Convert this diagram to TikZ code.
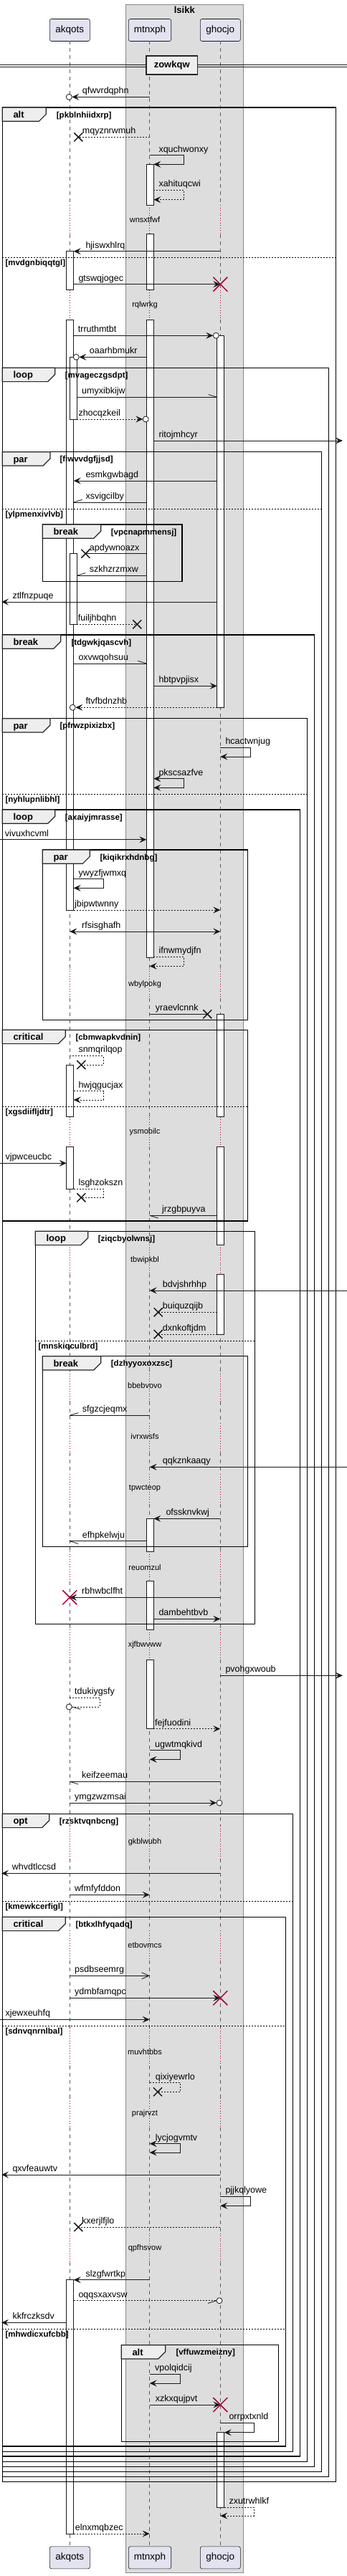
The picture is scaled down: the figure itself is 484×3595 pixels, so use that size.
\documentclass[tikz,border=0pt]{standalone}
\usepackage{fontspec}
\setmainfont{Liberation Sans}
\usetikzlibrary{arrows.meta}

\definecolor{partfill}{HTML}{E2E2F0}
\definecolor{boxfill}{HTML}{DDDDDD}
\definecolor{tabfill}{HTML}{EEEEEE}
\definecolor{delayred}{HTML}{A80036}
\definecolor{ink}{HTML}{181818}
\definecolor{boxline}{HTML}{888888}

\tikzset{
  >={Stealth[length=10pt,width=9pt,inset=4pt]},
  msgline/.style={draw=ink, line width=0.8pt},
  retline/.style={msgline, dash pattern=on 2pt off 2pt},
  openhead/.style={-{Straight Barb[length=10pt,width=9pt]}},
  msglbl/.style={anchor=base west, inner sep=0pt, yshift=4.5pt, font=\fontsize{12.5}{15}\selectfont},
  lifeline/.style={draw=ink!70, line width=0.6pt, dash pattern=on 5pt off 5pt},
  delayline/.style={draw=delayred, line width=0.8pt, dash pattern=on 1pt off 2.5pt},
  delaylbl/.style={inner sep=0pt, font=\fontsize{11}{13}\selectfont},
  actbox/.style={draw=ink, line width=0.8pt, fill=white},
  framebox/.style={draw=black, line width=1.5pt},
  frametab/.style={draw=black!85, line width=1.2pt, fill=tabfill},
  framelbl/.style={anchor=base west, inner sep=0pt, font=\fontsize{13}{15}\selectfont\bfseries},
  guardlbl/.style={anchor=base west, inner sep=0pt, font=\fontsize{11.5}{13}\selectfont\bfseries},
  elseline/.style={draw=black, line width=0.8pt, dash pattern=on 2pt off 2pt},
  partbox/.style={draw=ink, line width=0.6pt, fill=partfill, rounded corners=2.5pt, minimum width=56pt, minimum height=31pt, inner sep=0pt, font=\fontsize{13.5}{16}\selectfont},
  divbox/.style={draw=black!85, line width=1.5pt, fill=tabfill, minimum width=71.3pt, minimum height=26pt, inner sep=0pt, font=\fontsize{13}{15}\selectfont\bfseries},
  lostmark/.style={draw=ink, line width=1.5pt},
  killmark/.style={draw=delayred, line width=1.5pt},
  circmark/.style={draw=ink, line width=0.8pt, fill=white},
}

\newcommand{\msg}[6][]{%
  \coordinate (#6-a) at (#2,#4);
  \coordinate (#6-b) at (#3,#4);
  \draw[msgline,#1] (#6-a) -- (#6-b);
  \node[msglbl] (#6) at (#5,#4) {#6};}
\newcommand{\selfmsg}[8][]{%
  \coordinate (#8-a) at (#2,#4);
  \coordinate (#8-b) at (#6,#5);
  \draw[msgline,#1] (#8-a) -- (#3,#4) -- (#3,#5) -- (#8-b);
  \node[msglbl] (#8) at (#7,#4) {#8};}
\newcommand{\lostx}[2]{\draw[lostmark,shift={(#1,#2)}] (-6,-6) -- (6,6) (-6,6) -- (6,-6);}
\newcommand{\killx}[2]{\draw[killmark,shift={(#1,#2)}] (-10,-10) -- (10,10) (-10,10) -- (10,-10);}
\newcommand{\opencirc}[2]{\draw[circmark] (#1,#2) circle[radius=4];}
\newcommand{\barb}[4]{\draw[msgline] (#1,#2) -- ++(#3,#4);}
\newcommand{\actbar}[3]{\draw[actbox] (#1,#2) rectangle (#1+10,#3);}
\newcommand{\delaytxt}[2]{\node[delaylbl] (#1) at (202,#2) {#1};}
\newcommand{\sqframe}[9]{%
  \draw[framebox] (#2,#3) rectangle (#4,#5);
  \draw[frametab] (#2,#3) -- (#6,#3) -- (#6,#3+9.3) -- (#6-10,#3+19.3) -- (#2,#3+19.3) -- cycle;
  \node[framelbl] (#1) at (#2+15,#3+14.5) {#7};
  \node[guardlbl] (#1-g) at (#9,#3+14) {#8};}
\newcommand{\elsebar}[5]{%
  \draw[elseline] (#2,#4) -- (#3,#4);
  \node[guardlbl] (#1) at (#2+4,#4+11) {#5};}

\begin{document}
\begin{tikzpicture}[x=1pt,y=-1pt]
\useasboundingbox (0,0) rectangle (484,3595);

\draw[draw=boxline, fill=boxfill, line width=1pt] (175.3,6) rectangle (339.3,3590);
\node[inner sep=0pt, font=\fontsize{13}{15}\selectfont\bfseries] (lsikk) at (257.3,14.3) {lsikk};

\node[partbox] (akqots) at (97.3,42) {akqots};
\node[partbox, minimum width=59.4pt] (mtnxph) at (209,42) {mtnxph};
\node[partbox] (ghocjo) at (307.3,42) {ghocjo};
\node[partbox] (akqots-b) at (97.3,3569.3) {akqots};
\node[partbox, minimum width=59.4pt] (mtnxph-b) at (209,3569.3) {mtnxph};
\node[partbox] (ghocjo-b) at (307.3,3569.3) {ghocjo};

\foreach \lx in {97.3,208.7,307.3}{
  \foreach \s/\e in {57.3/286,326.7/404.7,446/1351.7,1392.7/1558.7,1600/1737.3,1778.3/1913,1956/1986,2027/2057,2099/2165.3,2206.7/2274.3,2316/2548,2594/2694,2736/2830,2883/2928,2969/3116.7,3156.7/3553.3}
    \draw[lifeline] (\lx,\s) -- (\lx,\e);
  \foreach \s/\e in {286/326.7,404.7/446,1351.7/1392.7,1558.7/1600,1737.3/1778.3,1913/1956,1986/2027,2057/2099,2165.3/2206.7,2274.3/2316,2548/2594,2694/2736,2830/2883,2928/2969,3116.7/3156.7}
    \draw[delayline] (\lx,\s) -- (\lx,\e);
}

\delaytxt{wnsxtfwf}{306.7}
\delaytxt{rqlwrkg}{426}
\delaytxt{wbylpokg}{1373.3}
\delaytxt{ysmobilc}{1580}
\delaytxt{tbwipkbl}{1759}
\delaytxt{bbebvovo}{1933.3}
\delaytxt{ivrxwsfs}{2005}
\delaytxt{tpwcteop}{2077}
\delaytxt{reuomzul}{2187.3}
\delaytxt{xjfbwvww}{2296}
\delaytxt{gkblwubh}{2571}
\delaytxt{etbovmcs}{2715}
\delaytxt{muvhtbbs}{2864}
\delaytxt{prajrvzt}{2949.3}
\delaytxt{qpfhsvow}{3138}

\actbar{92.7}{350.7}{404.7}
\actbar{92.7}{446}{1270}
\actbar{97.3}{498.3}{585.3}
\actbar{97.3}{772.7}{871.3}
\actbar{92.7}{1486}{1558.7}
\actbar{92.7}{1600}{1659.3}
\actbar{92.7}{3181.7}{3536}
\actbar{204.3}{229.3}{286}
\actbar{204.3}{326.7}{404.7}
\actbar{204.3}{446}{1336}
\actbar{204.3}{2119.3}{2165.3}
\actbar{204.3}{2206.7}{2274.3}
\actbar{204.3}{2316}{2412.7}
\actbar{302.7}{468.3}{987.3}
\actbar{302.7}{1415.3}{1558.7}
\actbar{302.7}{1600}{1737.3}
\actbar{302.7}{1778.3}{1862}
\actbar{302.7}{3394.7}{3499}

\sqframe{fAlt}{3.3}{150}{468.7}{3463.3}{64.3}{alt}{[pkblnhiidxrp]}{78.7}
\elsebar{gAltElse}{3.3}{468.7}{359.3}{[mvdgnbiqqtgl]}
\sqframe{fLoopA}{3.3}{513.3}{458.7}{3456.7}{76.7}{loop}{[mvageczgsdpt]}{90.7}
\sqframe{fParA}{3.3}{630.7}{448.7}{3449.3}{70}{par}{[fiwvvdgfjjsd]}{83.3}
\elsebar{gParAElse}{3.3}{448.7}{710}{[ylpmenxivlvb]}
\sqframe{fBreakA}{59.3}{732}{254}{811.3}{140.7}{break}{[vpcnapmmensj]}{154.7}
\sqframe{fBreakB}{3.3}{886}{438.7}{3442.7}{84.7}{break}{[tdgwkjqascvh]}{99.3}
\sqframe{fParB}{3.3}{1002.7}{428.7}{3435.3}{70}{par}{[pfrwzpixizbx]}{83.3}
\elsebar{gParBElse}{3.3}{428.7}{1108.7}{[nyhlupnlibhl]}
\sqframe{fLoopB}{3.3}{1130}{418.7}{3428}{76.7}{loop}{[axaiyjmrasse]}{90.7}
\sqframe{fParC}{59.3}{1186}{345.3}{1423.3}{125.3}{par}{[kiqikrxhdnbg]}{139.3}
\sqframe{fCritA}{3.3}{1437.3}{345.3}{1704}{91.3}{critical}{[cbmwapkvdnin]}{105.3}
\elsebar{gCritAElse}{3.3}{345.3}{1544}{[xgsdiifljdtr]}
\sqframe{fLoopC}{49.3}{1718.3}{355.3}{2266.7}{122.7}{loop}{[ziqcbyolwnsj]}{136.7}
\elsebar{gLoopCElse}{49.3}{355.3}{1871}{[mnskiqculbrd]}
\sqframe{fBreakC}{59.3}{1892.7}{345.3}{2158.7}{140.7}{break}{[dzhyyoxoxzsc]}{154.7}
\sqframe{fOpt}{3.3}{2531.3}{408.7}{3421.3}{68.7}{opt}{[rzsktvqnbcng]}{82.7}
\elsebar{gOptElse}{3.3}{408.7}{2653.3}{[kmewkcerfigl]}
\sqframe{fCritB}{3.3}{2675.3}{398.7}{3414}{91.3}{critical}{[btkxlhfyqadq]}{105.3}
\elsebar{gCritBElse}{3.3}{398.7}{2827}{[sdnvqnrnlbal]}
\elsebar{gCritBElseB}{3.3}{398.7}{3250}{[mhwdicxufcbb]}
\sqframe{fAltB}{169.3}{3272.7}{388.7}{3407.3}{230.7}{alt}{[vffuwzmeizny]}{245.3}

\msg[->]{208.7}{100.3}{135.3}{114.7}{qfwvrdqphn} \opencirc{96.3}{135.3}
\msg[retline]{208.7}{109.3}{191.3}{114.7}{mqyznrwmuh} \lostx{109.3}{191.3}
\selfmsg[->]{208.7}{256.7}{216.7}{229.3}{214.3}{221.3}{xquchwonxy}
\selfmsg[retline,->]{214.3}{256.7}{265.3}{278.7}{214.3}{221.3}{xahituqcwi}
\msg[->]{307.3}{102.7}{350.7}{119.3}{hjiswxhlrq}
\msg[->]{102.7}{307.3}{396.7}{109.3}{gtswqjogec} \killx{307.3}{396.7}
\msg[->]{102.7}{297.3}{468.3}{108.7}{trruthmtbt} \opencirc{301.3}{468.3}
\msg[->]{204.3}{110.3}{498.3}{124.7}{oaarhbmukr} \opencirc{106.3}{498.3}
\msg{107.3}{302.7}{554.3}{114}{umyxibkijw} \barb{302.7}{554.3}{-12}{-3.7}
\msg[retline,->]{107.3}{199.3}{585}{109.3}{zhocqzkeil} \opencirc{203.3}{585}
\msg[->]{214.3}{478}{615}{221.3}{ritojmhcyr}
\msg[->]{302.7}{102.7}{671}{119.3}{esmkgwbagd}
\msg{204.3}{102.7}{701}{119.3}{xsvigcilby} \barb{102.7}{701}{12}{-3.7}
\msg{204.3}{119.3}{772.7}{124.7}{apdywnoazx} \lostx{119.3}{772.7}
\msg{204.3}{107.3}{803.3}{124.7}{szkhzrzmxw} \barb{107.3}{803.3}{12}{-3.7}
\msg[->]{302.7}{2}{840}{17.3}{ztlfnzpuqe}
\msg[retline]{107.3}{191.3}{871.3}{108.7}{fuiljhbqhn} \lostx{191.3}{871.3}
\msg{102.7}{204.3}{926}{109.3}{oxvwqohsuu} \barb{204.3}{926}{-12}{-3.7}
\msg[->]{214.3}{302.7}{957.3}{221.3}{hbtpvpjisx}
\msg[retline,->]{302.7}{105.3}{987.3}{119.3}{ftvfbdnzhb} \opencirc{101.3}{987.3}
\selfmsg[->]{307.3}{349.3}{1043.3}{1056}{307.3}{314.3}{hcactwnjug}
\selfmsg[<->]{214.3}{256.7}{1086.7}{1099.3}{214.3}{221.3}{pkscsazfve}
\msg[->]{0}{204.3}{1171.7}{6.7}{vivuxhcvml}
\selfmsg[->]{102.7}{144}{1226.7}{1239.3}{102.7}{109.3}{ywyzfjwmxq}
\msg[retline,->]{102.7}{307.3}{1270}{104}{jbipwtwnny}
\msg[<->]{97.3}{307.3}{1300}{114}{rfsisghafh}
\selfmsg[retline,->]{214.3}{256.7}{1335.3}{1348.3}{208.7}{221.3}{ifnwmydjfn}
\msg{208.7}{289.3}{1415.3}{216.7}{yraevlcnnk} \lostx{289.3}{1415.3}
\selfmsg[retline]{97.3}{144}{1473.3}{1486}{113.3}{109.3}{snmqrilqop} \lostx{113.3}{1486}
\selfmsg[retline,->]{102.7}{144}{1522.7}{1535}{102.7}{109.3}{hwjqgucjax}
\msg[->]{0}{92.7}{1623.3}{7.3}{vjpwceucbc}
\selfmsg[retline]{102.7}{144}{1659.3}{1671.3}{113.3}{109.3}{lsghzokszn} \lostx{113.3}{1671.3}
\msg{302.7}{208.7}{1696.3}{226}{jrzgbpuyva} \barb{208.7}{1696.3}{12}{3.7}
\msg[->]{484}{208.7}{1801}{226.7}{bdvjshrhhp}
\msg[retline]{302.7}{220.7}{1831.3}{226.7}{buiquzqijb} \lostx{220.7}{1831.3}
\msg[retline]{302.7}{220.7}{1862}{226.7}{dxnkoftjdm} \lostx{220.7}{1862}
\msg{208.7}{97.3}{1975.3}{114.7}{sfgzcjeqmx} \barb{97.3}{1975.3}{12}{-3.7}
\msg[->]{484}{208.7}{2047.3}{226.7}{qqkznkaaqy}
\msg[->]{307.3}{214.3}{2119.3}{231.3}{ofssknvkwj}
\msg{204.3}{97.3}{2150.7}{114.7}{efhpkelwju} \barb{97.3}{2150.7}{12}{3.7}
\msg[->]{307.3}{97.3}{2229.3}{114}{rbhwbclfht} \killx{97.3}{2229.3}
\msg[->]{214.3}{307.3}{2259.3}{221.3}{dambehtbvb}
\msg[->]{307.3}{478}{2338.3}{314.3}{pvohgxwoub}
\selfmsg[retline]{97.3}{139.3}{2369.3}{2382}{100.3}{104}{tdukiygsfy} \barb{100.3}{2382}{12}{3.3} \opencirc{96.3}{2382}
\msg[retline,->]{214.3}{307.3}{2412.7}{216}{fejfuodini}
\selfmsg[->]{208.7}{251.3}{2442.7}{2455.3}{208.7}{216}{ugwtmqkivd}
\msg{307.3}{97.3}{2486.3}{114}{keifzeemau} \barb{97.3}{2486.3}{12}{3.7}
\msg[->]{97.3}{302}{2516}{104}{ymgzwzmsai} \opencirc{306}{2516}
\msg[->]{307.3}{2}{2614.3}{16.7}{whvdtlccsd}
\msg[->]{97.3}{208.7}{2644.3}{104}{wfmfyfddon}
\msg[openhead]{97.3}{208.7}{2757.3}{104}{psdbseemrg}
\msg[->]{97.3}{307.3}{2788.3}{104}{ydmbfamqpc} \killx{307.3}{2788.3}
\msg[->]{0}{208.7}{2818.3}{7.3}{xjewxeuhfq}
\selfmsg[retline]{208.7}{251.3}{2906.7}{2919.3}{220}{216.7}{qixiyewrlo} \lostx{220}{2919.3}
\selfmsg[<->]{208.7}{251.3}{2991.7}{3004}{208.7}{216.7}{lycjogvmtv}
\msg[->]{307.3}{2}{3035}{17.3}{qxvfeauwtv}
\selfmsg[->]{307.3}{349.3}{3065.3}{3078.3}{307.3}{314.3}{pjjkqlyowe}
\msg[retline]{307.3}{109.3}{3108}{114}{kxerjlfjlo} \lostx{109.3}{3108}
\msg[->]{208.7}{102.7}{3181.7}{119.3}{slzgfwrtkp}
\msg[retline]{102.7}{302}{3210.7}{109.3}{oqqsxaxvsw} \barb{302}{3210.7}{-12}{3.7} \opencirc{306}{3210.7}
\msg[->]{92.7}{2}{3241.3}{17.3}{kkfrczksdv}
\selfmsg[->]{208.7}{251.3}{3313.3}{3326}{208.7}{216}{vpolqidcij}
\msg[->]{208.7}{307.3}{3356}{216.7}{xzkxqujpvt} \killx{307.3}{3356}
\selfmsg[->]{307.3}{354}{3381.3}{3394.7}{312.7}{319.3}{orrpxtxnld}
\selfmsg[retline,->]{312.7}{354}{3499}{3511}{307.3}{319.3}{zxutrwhlkf}
\msg[retline,->]{102.7}{208.7}{3536}{104.7}{elnxmqbzec}

\draw[ink, line width=0.8pt] (0,90) -- (484,90) (0,93.3) -- (484,93.3);
\node[divbox] (zowkqw) at (239.7,91) {zowkqw};
\end{tikzpicture}
\end{document}
